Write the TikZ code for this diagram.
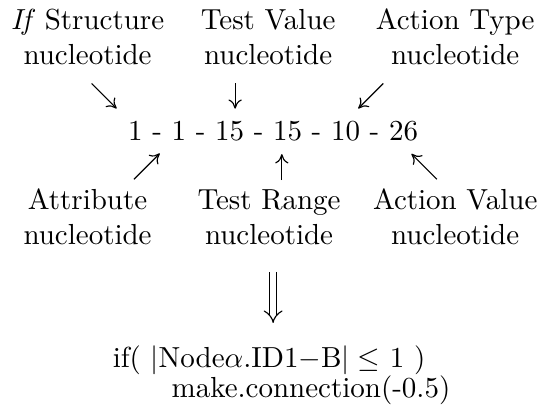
\documentclass[tikz,border=0pt]{standalone}
\usetikzlibrary{arrows.meta,positioning}
\tikzset{
  lbl/.style={align=center, inner sep=0pt},
  txt/.style={inner sep=0pt},
  ar/.style={-{To[length=3.2pt,width=4.6pt]}, line width=0.4pt},
  dbl/.style={-{Implies[length=3.6pt,width=6.4pt]}, double, double distance=1.9pt, line width=0.4pt},
}
\begin{document}
\begin{tikzpicture}
  \useasboundingbox (0,0) rectangle (186.6pt,-141.4pt);

  % ===== upper labels =====
  \node[lbl, anchor=south] (ifstruct) at (30.2pt,-22.4pt) {\textit{If} Structure\\nucleotide};
  \node[lbl, anchor=south] (testval) at (92.5pt,-22.4pt) {Test Value\\nucleotide};
  \node[lbl, anchor=south] (acttype) at (157pt,-22.4pt) {Action Type\\nucleotide};

  % ===== the gene =====
  \node[txt, anchor=base] (gene) at (94.2pt,-48.3pt) {1 - 1 - 15 - 15 - 10 - 26};

  % ===== lower labels =====
  \node[lbl, anchor=south] (attrib) at (30.2pt,-84.5pt) {Attribute\\nucleotide};
  \node[lbl, anchor=south] (testrng) at (92.8pt,-84.5pt) {Test Range\\nucleotide};
  \node[lbl, anchor=south] (actval) at (157pt,-84.5pt) {Action Value\\nucleotide};

  % ===== decoded rule =====
  \node[txt, anchor=base west] (cond) at (38.7pt,-126.6pt) {if( $|$Node$\alpha$.ID1$-$B$|\leq$ 1 )};
  \node[txt, anchor=base west] (act) at ([xshift=20.3pt,yshift=-10.4pt]cond.base west) {make.connection(-0.5)};

  % ===== arrows into the gene =====
  \draw[ar] ([shift={(1.4pt,-6.4pt)}]ifstruct.south) -- ++(-45:12.2pt);
  \draw[ar] ([shift={(-11.4pt,-6.4pt)}]testval.south) -- ++(0,-8.7pt);
  \draw[ar] ([shift={(-24.8pt,-6.4pt)}]acttype.south) -- ++(-135:12.2pt);

  \draw[ar] ([shift={(16pt,3pt)}]attrib.north) -- ++(45:12.6pt);
  \draw[ar] ([shift={(4.4pt,3pt)}]testrng.north) -- ++(0,9pt);
  \draw[ar] ([shift={(-6.3pt,3pt)}]actval.north) -- ++(135:12.4pt);

  % decoding step
  \draw[dbl] (gene.south |- testrng.south) ++(0,-9.3pt) -- ++(0,-17.6pt);

\end{tikzpicture}
\end{document}
